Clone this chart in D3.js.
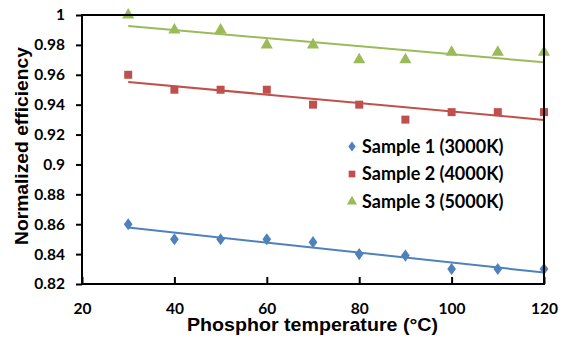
<!DOCTYPE html>
<html>
<head>
<meta charset="utf-8">
<script src="https://cdn.jsdelivr.net/npm/d3@7"></script>
<style>
  body { margin: 0; background: #fff; }
  svg { display: block; }
</style>
</head>
<body>
<svg width="564" height="347"></svg>
<script>
/* global d3 */
var svg = d3.select('svg')

// data
var temps = [30, 40, 50, 60, 70, 80, 90, 100, 110, 120]
var sample1 = [0.860, 0.850, 0.850, 0.850, 0.848, 0.840, 0.839, 0.830, 0.830, 0.830]
var sample2 = [0.960, 0.950, 0.950, 0.950, 0.940, 0.940, 0.930, 0.935, 0.935, 0.935]
var sample3 = [1.000, 0.990, 0.990, 0.980, 0.980, 0.970, 0.970, 0.975, 0.975, 0.975]
var seriesNames = ['Sample 1 (3000K)', 'Sample 2 (4000K)', 'Sample 3 (5000K)']
var xTicks = [20, 40, 60, 80, 100, 120]
var yTicks = [0.82, 0.84, 0.86, 0.88, 0.9, 0.92, 0.94, 0.96, 0.98, 1]

let colors = ['#4F81BD', '#C0504D', '#9BBB59']
let symbols = [d3.symbolDiamond, d3.symbolSquare, d3.symbolTriangle]
let symSizes = [42, 64, 64]
let tickFont = 'Lato, "Open Sans", sans-serif'
let titleFont = '"Liberation Sans", Arial, sans-serif'

var series = [sample1, sample2, sample3].map((vals, i) => ({
  name: seriesNames[i],
  color: colors[i],
  symbol: symbols[i],
  size: symSizes[i],
  points: temps.map((t, j) => ({ x: t, y: vals[j] }))
}))

var margin = { left: 82, top: 15, right: 20, bottom: 63 }
var x = d3.scaleLinear().domain([20, 120]).range([margin.left, 564 - margin.right])
var y = d3.scaleLinear().domain([0.82, 1]).range([347 - margin.bottom, margin.top])

// linear trend line (least squares)
function fit (pts) {
  var mx = d3.mean(pts, p => p.x)
  var my = d3.mean(pts, p => p.y)
  var sxy = d3.sum(pts, p => (p.x - mx) * (p.y - my))
  var sxx = d3.sum(pts, p => (p.x - mx) * (p.x - mx))
  var b = sxy / sxx
  return t => my + b * (t - mx)
}

// trend lines
series.forEach(s => {
  var f = fit(s.points)
  var ext = d3.extent(s.points, p => p.x)
  svg.append('line')
    .attr('x1', x(ext[0])).attr('y1', y(f(ext[0])))
    .attr('x2', x(ext[1])).attr('y2', y(f(ext[1])))
    .attr('stroke', s.color)
    .attr('stroke-width', 2)
})

// markers
series.forEach(s => {
  svg.append('g')
    .selectAll('path')
    .data(s.points)
    .enter().append('path')
      .attr('d', d3.symbol().type(s.symbol).size(s.size))
      .attr('transform', d => 'translate(' + x(d.x) + ',' + y(d.y) + ')' + (s.symbol === d3.symbolDiamond ? ' scale(1.25,1)' : ''))
      .attr('fill', s.color)
})

// plot frame
svg.append('rect')
  .attr('x', x(20)).attr('y', y(1))
  .attr('width', x(120) - x(20)).attr('height', y(0.82) - y(1))
  .attr('fill', 'none')
  .attr('stroke', '#000')
  .attr('stroke-width', 2)

// y axis
var yAxis = svg.append('g')
  .attr('transform', 'translate(' + x(20) + ',0)')
  .call(d3.axisLeft(y).tickValues(yTicks).tickSize(6).tickPadding(11)
    .tickFormat(d => d === 1 ? '1' : d === 0.9 ? '0.9' : d3.format('.2f')(d)))
yAxis.select('.domain').remove()
yAxis.selectAll('line').attr('stroke', '#000').attr('stroke-width', 2)
yAxis.selectAll('text')
  .attr('fill', '#000')
  .style('font-family', tickFont)
  .style('font-weight', 'bold')
  .style('font-size', '15.5px')

// x axis (ticks point inward)
var xAxis = svg.append('g')
  .attr('transform', 'translate(0,' + y(0.82) + ')')
  .call(d3.axisBottom(x).tickValues(xTicks).tickSize(-7).tickPadding(18.5))
xAxis.select('.domain').remove()
xAxis.selectAll('line').attr('stroke', '#000').attr('stroke-width', 2)
xAxis.selectAll('text')
  .attr('fill', '#000')
  .style('font-family', tickFont)
  .style('font-weight', 'bold')
  .style('font-size', '15.5px')

// axis titles
svg.append('text')
  .attr('x', 312.5).attr('y', 331)
  .attr('text-anchor', 'middle')
  .attr('textLength', 251)
  .attr('lengthAdjust', 'spacingAndGlyphs')
  .style('font-family', titleFont)
  .style('font-weight', 'bold')
  .style('font-size', '18px')
  .text('Phosphor temperature (°C)')

svg.append('text')
  .attr('transform', 'translate(28,146) rotate(-90)')
  .attr('text-anchor', 'middle')
  .attr('textLength', 198)
  .attr('lengthAdjust', 'spacingAndGlyphs')
  .style('font-family', titleFont)
  .style('font-weight', 'bold')
  .style('font-size', '18px')
  .text('Normalized efficiency')

// legend
var legend = svg.append('g')
  .selectAll('g')
  .data(series)
  .enter().append('g')
    .attr('transform', (d, i) => 'translate(352,' + (146.5 + i * 27.5) + ')')
legend.append('path')
  .attr('d', d => d3.symbol().type(d.symbol).size(d.size * 0.7)())
  .attr('transform', d => d.symbol === d3.symbolDiamond ? 'scale(1.25,1)' : null)
  .attr('fill', d => d.color)
legend.append('text')
  .attr('x', 10).attr('dy', '0.36em')
  .style('font-family', tickFont)
  .style('font-weight', 'bold')
  .style('font-size', '18px')
  .text(d => d.name)
</script>
</body>
</html>
